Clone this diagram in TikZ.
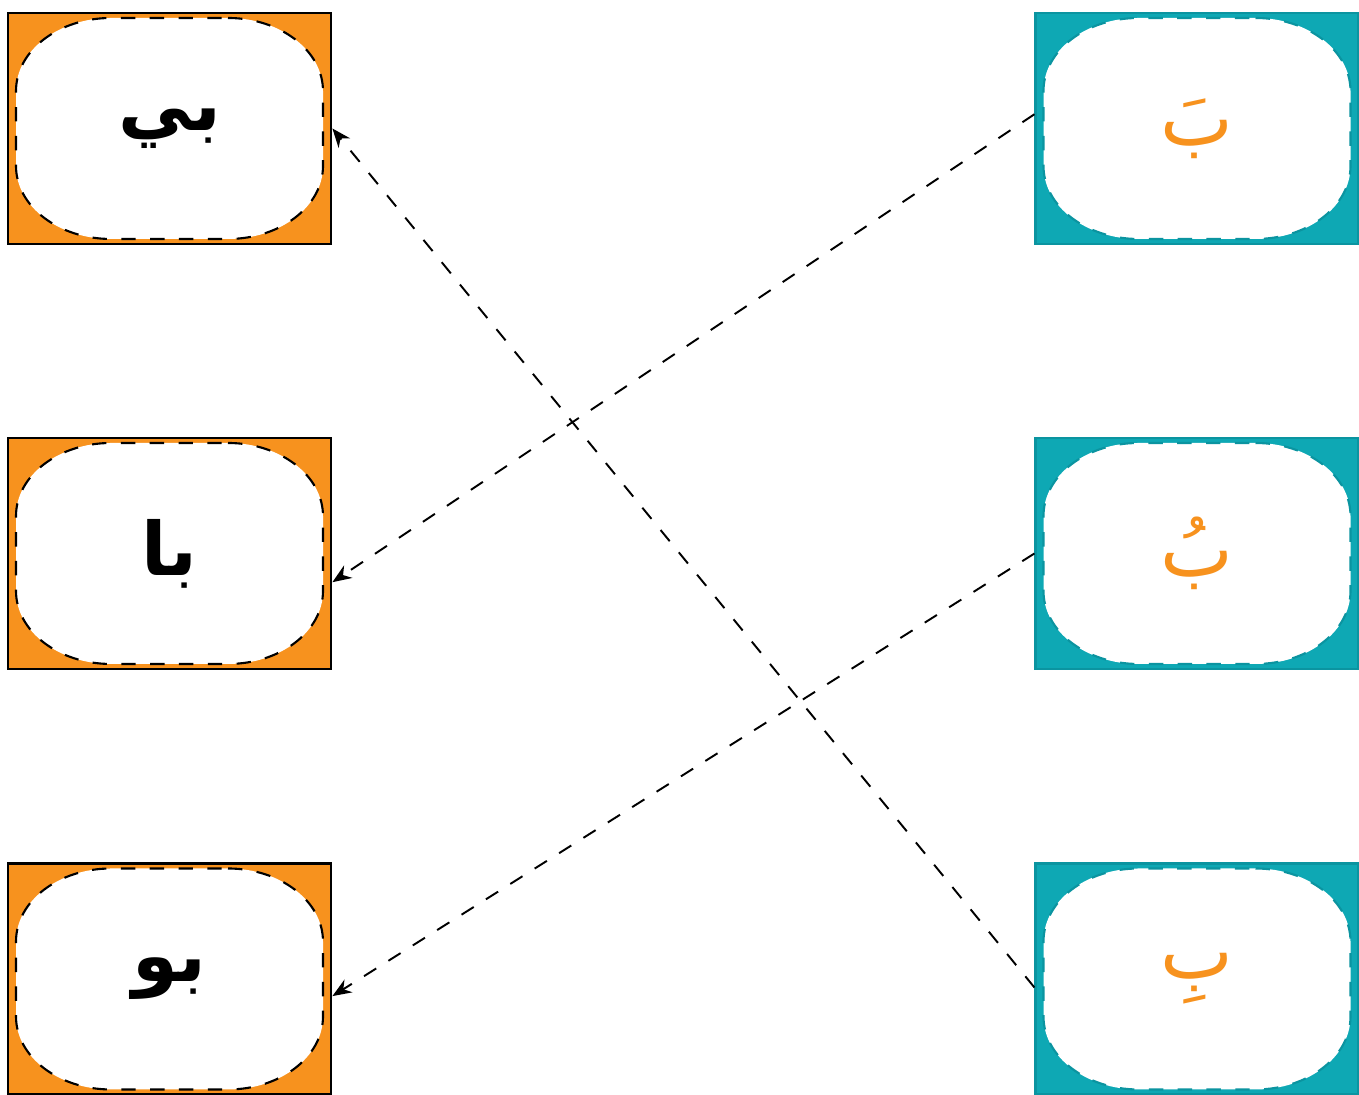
\documentclass[tikz,border=0pt]{standalone}
\usepackage{fontspec}
\usepackage{xcolor}
\usetikzlibrary{arrows.meta}
\TeXXeTstate=1
\newfontfamily\arabicfont[Script=Arabic]{DejaVu Sans}
\definecolor{cardorange}{HTML}{F7921E}
\definecolor{cardteal}{HTML}{0EA8B4}
\definecolor{darkteal}{HTML}{0B94A0}
\tikzset{
    blob/.style={insert path={(0.585,1.105)
        arc[start angle=90,end angle=0,x radius=0.95,y radius=0.73] -- (1.535,-0.375)
        arc[start angle=0,end angle=-90,x radius=0.95,y radius=0.73] -- (-0.585,-1.105)
        arc[start angle=270,end angle=180,x radius=0.95,y radius=0.73] -- (-1.535,0.375)
        arc[start angle=180,end angle=90,x radius=0.95,y radius=0.73] -- cycle}},
    dashes/.style={dash pattern=on 4.1pt off 4.1pt},
    card/.style={rectangle, minimum width=3.23cm, minimum height=2.31cm, inner sep=0pt},
    leftcard/.style={card, draw=black, line width=0.8pt, fill=cardorange,
        path picture={\filldraw[fill=white, draw=black, line width=0.6pt, dashes, blob];},
        label={[text=black, font=\arabicfont\bfseries\fontsize{21}{25}\selectfont]center:\beginR #1\endR}},
    rightcard/.style={card, draw=darkteal, line width=0.6pt, fill=cardteal,
        path picture={\filldraw[fill=white, draw=darkteal, line width=0.6pt, dashes, blob];},
        label={[text=cardorange, font=\arabicfont\fontsize{22}{26}\selectfont]center:\beginR #1\endR}},
    link/.style={draw=black, line width=0.55pt, dashes, -{Stealth[length=1.9mm,width=1.5mm]}},
}
\begin{document}
\begin{tikzpicture}
    \useasboundingbox (0,0) rectangle (13.59,10.95);
    %\draw[help lines] (0,0) grid (13,11);
    % colonne de gauche
    \node[leftcard=بي] (l1) at (1.695,9.665) {};
    \node[leftcard=با] (l2) at (1.695,5.415) {};
    \node[leftcard=بو] (l3) at (1.695,1.16) {};
    % colonne de droite
    \node[rightcard=بَ] (r1) at (11.97,9.665) {};
    \node[rightcard=بُ] (r2) at (11.97,5.415) {};
    \node[rightcard=بِ] (r3) at (11.97,1.16) {};
    % liaisons
    \draw[link] (r1.175) -- (l2.350);
    \draw[link] (r2.west) -- (l3.354);
    \draw[link] (r3.183) -- (l1.east);
\end{tikzpicture}
\end{document}
